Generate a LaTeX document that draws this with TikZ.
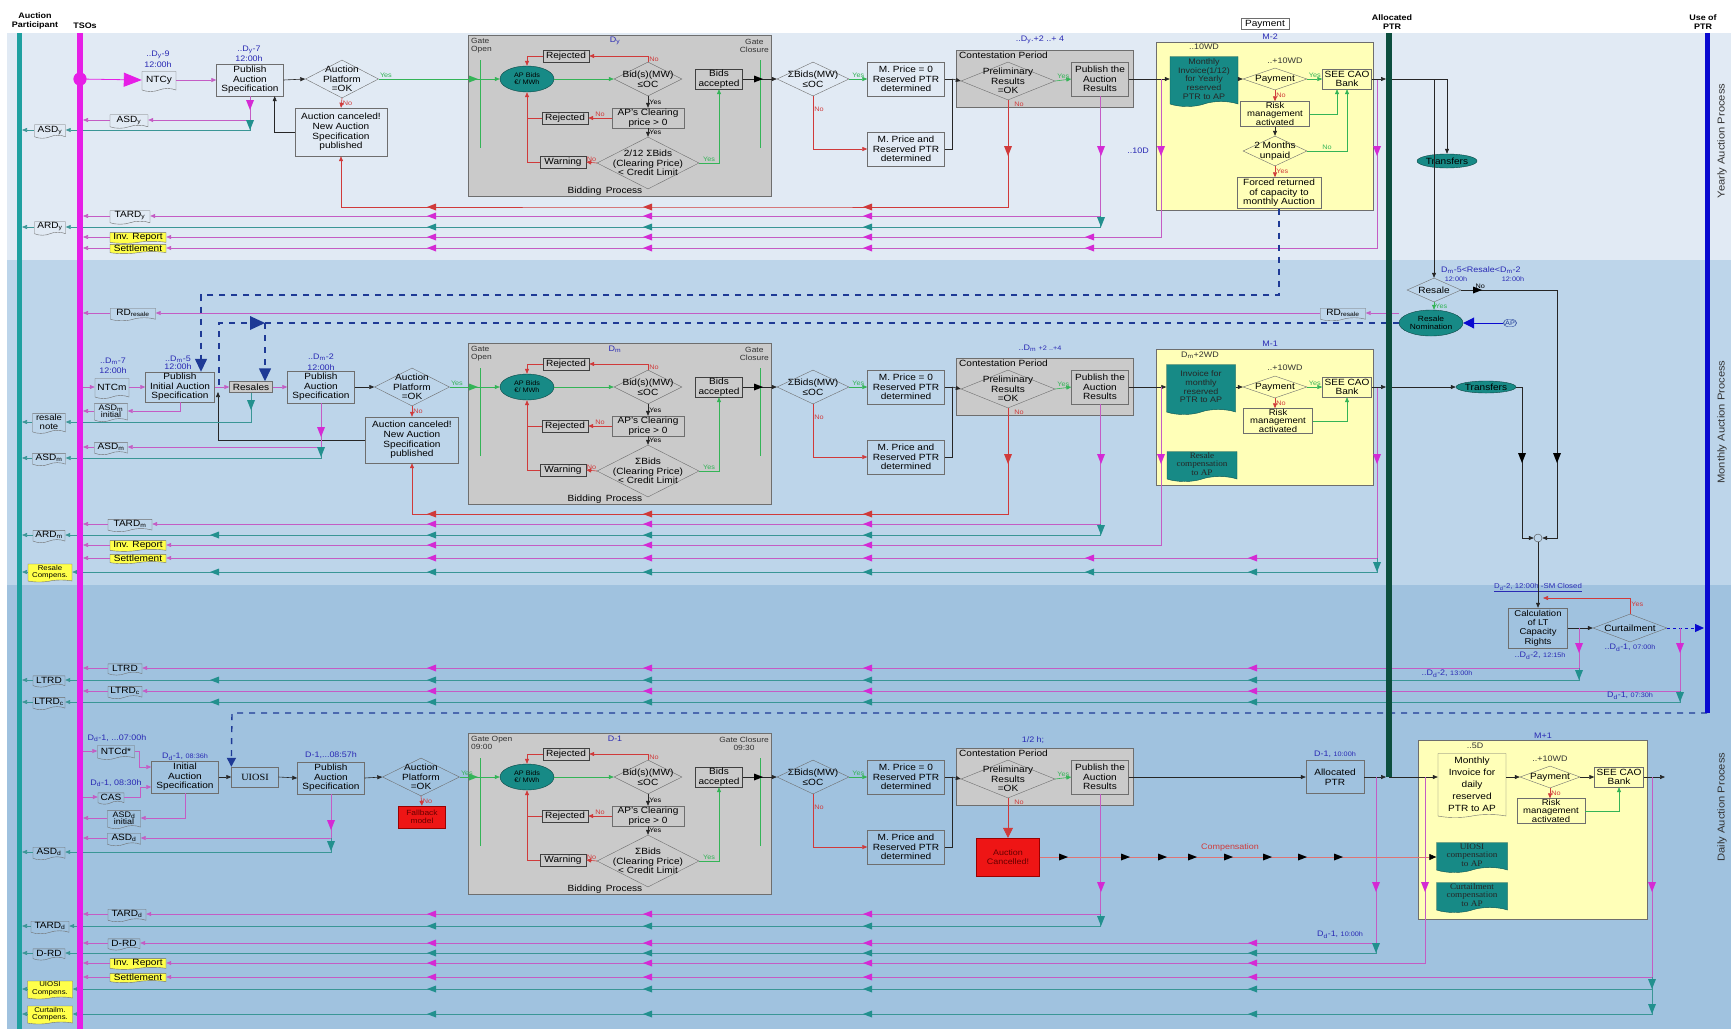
\documentclass[tikz,border=0pt]{standalone}
\usepackage{fontspec}
\setmainfont{Liberation Sans}[FakeStretch=1.12]
\newfontfamily\serifdoc{Liberation Serif}[FakeStretch=1.08]
\usetikzlibrary{arrows.meta,shapes.geometric,shapes.symbols,positioning,calc}

\definecolor{bandY}{HTML}{E1EAF4}
\definecolor{bandM}{HTML}{BDD5EA}
\definecolor{bandD}{HTML}{A0C2DF}
\definecolor{apteal}{HTML}{1FA0A0}
\definecolor{tsomag}{HTML}{E61EE6}
\definecolor{allocgreen}{HTML}{0C4E3E}
\definecolor{useblue}{HTML}{0A0AD0}
\definecolor{navy}{HTML}{1E3A96}
\definecolor{linemag}{HTML}{C45CC4}
\definecolor{tipmag}{HTML}{D42AD4}
\definecolor{lineteal}{HTML}{3A9696}
\definecolor{tipteal}{HTML}{22908E}
\definecolor{linered}{HTML}{D03A3A}
\definecolor{linegreen}{HTML}{34B457}
\definecolor{procgray}{HTML}{CACACA}
\definecolor{docteal}{HTML}{178A86}
\definecolor{payyellow}{HTML}{FFFFB8}
\definecolor{repyellow}{HTML}{FFFF4A}
\definecolor{timeblue}{HTML}{2A2AB4}
\definecolor{cancelred}{HTML}{EE1515}
\definecolor{edgegray}{HTML}{6E6E6E}

\newcommand\bxfont{\fontsize{9}{9.6}\selectfont}
\newcommand\smfont{\fontsize{6.5}{7}\selectfont}
\newcommand\tmfont{\fontsize{8}{8.5}\selectfont}
\newcommand\hdfont{\fontsize{8}{9.5}\selectfont\bfseries}

% arrow heads sitting on the signal lines
\newcommand\ltip[3]{\fill[#1] (#2,#3) -- ++(9,-3.5) -- ++(0,7) -- cycle;}
\newcommand\rtip[3]{\fill[#1] (#2,#3) -- ++(-9,-3.5) -- ++(0,7) -- cycle;}
\newcommand\dtip[3]{\fill[#1] (#2,#3) -- ++(-4,-10) -- ++(8,0) -- cycle;}

\tikzset{
	box/.style={draw=edgegray, inner sep=1pt, align=center, font=\bxfont},
	gbox/.style={box, fill=procgray, draw=black!75},
	dia/.style={diamond, draw=edgegray, inner sep=0pt},
	dtext/.style={align=center, font=\bxfont, inner sep=0pt},
	doc/.style={tape, tape bend top=none, tape bend height=3pt, draw=edgegray, inner sep=1pt, align=center, font=\bxfont},
	tdoc/.style={doc, fill=docteal, draw=docteal!60!black, tape bend height=5pt, text=black!85},
	ydoc/.style={doc, fill=repyellow, tape bend height=2pt, inner sep=0.3pt, minimum width=56pt, minimum height=9pt},
	oval/.style={ellipse, fill=docteal, draw=docteal!50!black, inner sep=0pt, align=center, font=\smfont},
	mline/.style={linemag, line width=0.6pt},
	tline/.style={lineteal, line width=0.6pt},
	rline/.style={linered, line width=0.6pt},
	gline/.style={linegreen, line width=0.6pt},
	kline/.style={black!85, line width=0.6pt},
	navydash/.style={navy, line width=1.4pt, dash pattern=on 6pt off 6pt},
	tip/.style={-{Triangle[length=5pt,width=4pt]}},
	bigtip/.style={-{Triangle[length=13pt,width=12pt]}},
	tolane/.style={tip, shorten >=3pt},
	yes/.style={font=\smfont, text=linegreen, inner sep=1pt},
	no/.style={font=\smfont, text=linered, inner sep=1pt},
	kyes/.style={font=\smfont, text=black, inner sep=1pt},
	tlab/.style={font=\tmfont, text=timeblue, align=center, inner sep=0pt},
	klab/.style={font=\tmfont, text=black!80, inner sep=0pt},
	gate/.style={font=\fontsize{7.5}{8}\selectfont, text=black!80, align=left, inner sep=0pt},
}

\begin{document}
\begin{tikzpicture}[x=1pt, y=-1pt]
	\useasboundingbox (0,0) rectangle (1731,1029);
	\fill[white] (0,0) rectangle (1731,1029);
	\fill[bandY] (7,33) rectangle (1731,260);
	\fill[bandM] (7,260) rectangle (1731,585);
	\fill[bandD] (7,585) rectangle (1731,1029);

	\coordinate (ap) at (19,33);
	\coordinate (tso) at (80,33);
	\coordinate (alloc) at (1389,33);
	\coordinate (use) at (1707,33);
	\coordinate (bottom) at (0,1029);

	% header
	\node[font=\hdfont, align=center, inner sep=0pt] (hap) at (35,21) {Auction\\Participant};
	\node[font=\hdfont, inner sep=0pt] (htso) at (85,26) {TSOs};
	\node[font=\hdfont, align=center, inner sep=0pt] (halloc) at (1392,22) {Allocated\\PTR};
	\node[font=\hdfont, align=center, inner sep=0pt] (huse) at (1703,22) {Use of\\PTR};
	\node[box, minimum width=48pt, minimum height=11pt, inner sep=0pt] (hpay) at (1265,24) {Payment};
	\node[rotate=90, font=\fontsize{10}{10}\selectfont, text=black!80] (lyear) at (1722,141) {Yearly Auction Process};
	\node[rotate=90, font=\fontsize{10}{10}\selectfont, text=black!80] (lmonth) at (1722,422) {Monthly Auction Process};
	\node[rotate=90, font=\fontsize{10}{10}\selectfont, text=black!80] (lday) at (1722,807) {Daily Auction Process};

	% yearly, left part
	\node[circle, fill=tsomag, minimum size=13pt, inner sep=0pt] (doty) at (80,79) {};
	\node[doc, minimum width=34pt, minimum height=20pt] (ntcy) at (159,80) {NTCy};
	\node[tlab] (tny) at (158,59) {..D\textsubscript{y}-9\\[2pt]12:00h};
	\node[box, minimum width=67pt, minimum height=32pt] (puby) at (250,80) {Publish\\Auction\\Specification};
	\node[tlab] (tpy) at (249,54) {..D\textsubscript{y}-7\\[2pt]12:00h};
	\node[dia, minimum width=73pt, minimum height=38pt, label={[dtext]center:{Auction\\Platform\\=OK}}] (platy) at (342,79) {};
	\node[box, minimum width=92pt, minimum height=48pt] (cany) at (341,132) {Auction canceled!\\New Auction\\Specification\\published};
	\draw[tsomag, line width=0.8pt, -{Triangle[length=18pt,width=14pt]}] (doty) -- (ntcy.west);
	\draw[mline, tip] (ntcy.east) -- (puby.west);
	\draw[kline, tip] (puby.east) -- (platy.west);
	\draw[rline, tip] (platy.south) -- node[no, right]{No} (cany.north);
	\draw[kline, tip] (cany.west) -| ([xshift=-9pt]puby.south east);

	\node[doc, minimum width=38pt, minimum height=10pt] (asdyT) at (129,120) {ASD\textsubscript{y}};
	\node[doc, minimum width=31pt, minimum height=10pt] (asdyP) at (50,130) {ASD\textsubscript{y}};
	\draw[mline, tip] (puby.south) |- (asdyT.east);
	\dtip{tipmag}{250}{110}
	\draw[mline, tolane] (asdyT.west) -- (asdyT.west -| tso);
	\draw[tline, tip] (puby.south |- asdyT.east) |- (asdyP.east);
	\dtip{tipteal}{250}{130}
	\draw[tline, tolane] (asdyP.west) -- (asdyP.west -| ap);

	\node[doc, minimum width=40pt, minimum height=10pt] (tardyT) at (130,216) {TARD\textsubscript{y}};
	\node[ydoc] (invyT) at (138,237) {Inv. Report};
	\node[ydoc] (setyT) at (138,248) {Settlement};
	\node[doc, minimum width=31pt, minimum height=10pt] (ardyP) at (50,227) {ARD\textsubscript{y}};
	\draw[mline, tolane] (tardyT.west) -- (tardyT.west -| tso);
	\draw[mline, tolane] (invyT.west) -- (invyT.west -| tso);
	\draw[mline, tolane] (setyT.west) -- (setyT.west -| tso);
	\draw[tline, tolane] (ardyP.west) -- (ardyP.west -| ap);

	% monthly, left part
	\node[doc, minimum width=34pt, minimum height=20pt] (ntcm) at (112,387) {NTCm};
	\node[tlab] (tnm) at (113,366) {..D\textsubscript{m}-7\\[2pt]12:00h};
	\node[box, minimum width=69pt, minimum height=30pt] (pubinit) at (180,387) {Publish\\Initial Auction\\Specification};
	\node[tlab] (tim) at (178,363) {..D\textsubscript{m}-5\\[0pt]12:00h};
	\node[gbox, draw=edgegray, minimum width=43pt, minimum height=11pt, inner sep=0.5pt] (resales) at (251,387) {Resales};
	\node[box, minimum width=67pt, minimum height=32pt] (pubm) at (321,387) {Publish\\Auction\\Specification};
	\node[tlab] (tpm) at (321,362) {..D\textsubscript{m}-2\\[2pt]12:00h};
	\node[dia, minimum width=75pt, minimum height=38pt, label={[dtext]center:{Auction\\Platform\\=OK}}] (platm) at (412,387) {};
	\node[box, minimum width=93pt, minimum height=46pt] (canm) at (412,440) {Auction canceled!\\New Auction\\Specification\\published};
	\draw[mline, tip] ([xshift=3pt]ntcm.west -| tso) -- (ntcm.west);
	\draw[mline, tip] (ntcm.east) -- (pubinit.west);
	\draw[mline, tip] (pubinit.east) -- (resales.west);
	\draw[mline, tip] (resales.east) -- (pubm.west);
	\draw[kline, tip] (pubm.east) -- (platm.west);
	\draw[rline, tip] (platm.south) -- node[no, right]{No} (canm.north);
	\coordinate (fbm) at (218,392);
	\draw[kline, tip] (canm.west) -| (fbm);

	\node[doc, minimum width=33pt, minimum height=14pt, font=\fontsize{8}{7.5}\selectfont] (asdmiT) at (111,411) {ASD\textsubscript{m}\\initial};
	\draw[mline, tip] (pubinit.south) |- (asdmiT.east);
	\draw[mline, tolane] (asdmiT.west) -- (asdmiT.west -| tso);
	\node[doc, minimum width=33pt, minimum height=18pt, font=\fontsize{8.5}{8.5}\selectfont] (resnoteP) at (49,422) {resale\\note};
	\draw[tline, tip] (resales.south) |- (resnoteP.east);
	\dtip{tipteal}{251}{410}
	\draw[tline, tolane] (resnoteP.west) -- (resnoteP.west -| ap);

	\node[doc, minimum width=33pt, minimum height=10pt] (asdmT) at (111,447) {ASD\textsubscript{m}};
	\node[doc, minimum width=33pt, minimum height=10pt] (asdmP) at (49,458) {ASD\textsubscript{m}};
	\draw[mline, tip] (pubm.south) |- (asdmT.east);
	\dtip{tipmag}{321}{437}
	\draw[mline, tolane] (asdmT.west) -- (asdmT.west -| tso);
	\draw[tline, tip] (pubm.south |- asdmT.east) |- (asdmP.east);
	\dtip{tipteal}{321}{457}
	\draw[tline, tolane] (asdmP.west) -- (asdmP.west -| ap);

	\node[doc, minimum width=44pt, minimum height=10pt] (tardmT) at (130,524) {TARD\textsubscript{m}};
	\node[ydoc] (invmT) at (138,545) {Inv. Report};
	\node[ydoc] (setmT) at (138,558) {Settlement};
	\node[doc, minimum width=32pt, minimum height=10pt] (ardmP) at (49,535) {ARD\textsubscript{m}};
	\node[ydoc, minimum width=44pt, minimum height=18pt, font=\fontsize{7}{7.5}\selectfont] (rescP) at (50,572) {Resale\\Compens.};
	\draw[mline, tolane] (tardmT.west) -- (tardmT.west -| tso);
	\draw[mline, tolane] (invmT.west) -- (invmT.west -| tso);
	\draw[mline, tolane] (setmT.west) -- (setmT.west -| tso);
	\draw[tline, tolane] (ardmP.west) -- (ardmP.west -| ap);
	\draw[tline, tolane] (rescP.west) -- (rescP.west -| ap);

	% daily, left part
	\node[doc, minimum width=37pt, minimum height=14pt] (ntcd) at (116,751) {NTCd*};
	\node[tlab] (tnd) at (117,738) {D\textsubscript{d}-1, ...07:00h};
	\node[doc, minimum width=26pt, minimum height=11pt] (cas) at (111,797) {CAS};
	\node[tlab] (tcas) at (116,783) {D\textsubscript{d}-1, 08:30h};
	\node[box, minimum width=67pt, minimum height=32pt] (initd) at (185,777) {Initial\\Auction\\Specification};
	\node[tlab] (tid) at (185,757) {D\textsubscript{d}-1, {\smfont 08:36h}};
	\node[box, minimum width=47pt, minimum height=20pt, font=\serifdoc\fontsize{9.5}{10}\selectfont] (uiosi) at (255,777) {UIOSI};
	\node[box, minimum width=67pt, minimum height=32pt] (pubd) at (331,778) {Publish\\Auction\\Specification};
	\node[tlab] (tpd) at (331,755) {D-1,...08:57h};
	\node[dia, minimum width=77pt, minimum height=38pt, label={[dtext]center:{Auction\\Platform\\=OK}}] (platd) at (421,777) {};
	\node[box, fill=cancelred, draw=red!60!black, minimum width=47pt, minimum height=22pt, text=red!40!black, font=\fontsize{7.5}{8}\selectfont] (fallback) at (422,817) {Fallback\\model};
	\draw[mline, tip] ([xshift=3pt]ntcd.west -| tso) -- (ntcd.west);
	\draw[mline, tip] ([xshift=3pt]cas.west -| tso) -- (cas.west);
	\draw[mline, tip] (ntcd.east) -- ++(5,0) |- ([yshift=10pt]initd.west);
	\draw[mline, tip] (cas.east) -- ++(16,0) |- ([yshift=-10pt]initd.west);
	\draw[kline, tip] (initd.east) -- (uiosi.west);
	\draw[kline, tip] (uiosi.east) -- (pubd.west);
	\draw[kline, tip] (pubd.east) -- (platd.west);
	\draw[rline, tip] (platd.south) -- node[no, right]{No} (fallback.north);

	\node[doc, minimum width=33pt, minimum height=14pt, font=\fontsize{8}{7.5}\selectfont] (asddiT) at (124,818) {ASD\textsubscript{d}\\initial};
	\draw[mline, tip] (initd.south) |- (asddiT.east);
	\draw[mline, tolane] (asddiT.west) -- (asddiT.west -| tso);
	\node[doc, minimum width=33pt, minimum height=11pt] (asddT) at (124,838) {ASD\textsubscript{d}};
	\node[doc, minimum width=32pt, minimum height=11pt] (asddP) at (49,852) {ASD\textsubscript{d}};
	\draw[mline, tip] (pubd.south) |- (asddT.east);
	\dtip{tipmag}{331}{830}
	\draw[mline, tolane] (asddT.west) -- (asddT.west -| tso);
	\draw[tline, tip] (pubd.south |- asddT.east) |- (asddP.east);
	\dtip{tipteal}{331}{851}
	\draw[tline, tolane] (asddP.west) -- (asddP.west -| ap);

	\node[doc, minimum width=38pt, minimum height=10pt] (tarddT) at (127,914) {TARD\textsubscript{d}};
	\node[doc, minimum width=38pt, minimum height=10pt] (tarddP) at (50,926) {TARD\textsubscript{d}};
	\node[doc, minimum width=32pt, minimum height=10pt] (drdT) at (124,943) {D-RD};
	\node[doc, minimum width=32pt, minimum height=10pt] (drdP) at (49,953) {D-RD};
	\node[ydoc] (invdT) at (138,963) {Inv. Report};
	\node[ydoc] (setdT) at (138,977) {Settlement};
	\node[ydoc, minimum width=45pt, minimum height=18pt, font=\fontsize{7}{7.5}\selectfont] (uiosiP) at (50,989) {UIOSI\\Compens.};
	\node[ydoc, minimum width=45pt, minimum height=18pt, font=\fontsize{7}{7.5}\selectfont] (curtP) at (50,1014) {Curtailm.\\Compens.};
	\foreach \n in {tarddT,drdT,invdT,setdT} {\draw[mline, tolane] (\n.west) -- (\n.west -| tso);}
	\foreach \n in {tarddP,drdP,uiosiP,curtP} {\draw[tline, tolane] (\n.west) -- (\n.west -| ap);}

	% bidding process and contestation, same in the three rows
	\foreach \r/\yo/\ttl/\gopen/\gclose/\crit in {
			y/0/{D\textsubscript{y}}/{Gate\\Open}/{Gate\\Closure}/{2/12 ΣBids\\(Clearing Price)\\< Credit Limit},
			m/-308/{D\textsubscript{m}}/{Gate\\Open}/{Gate\\Closure}/{ΣBids\\(Clearing Price)\\< Credit Limit},
			d/-698/{D-1}/{Gate Open\\09:00}/{Gate Closure\\09:30}/{ΣBids\\(Clearing Price)\\< Credit Limit}}{
		\begin{scope}[yshift=\yo*1pt]
			\node[box, fill=procgray, minimum width=303pt, minimum height=161pt] (bp\r) at (619.5,115.5) {};
			\node[tlab] (bt\r) at (615,41) {\ttl};
			\node[gate, anchor=north west] (go\r) at (471,38) {\gopen};
			\node[gate, anchor=north east, align=center] (gc\r) at (769,39) {\gclose};
			\draw[gline] (480,60) -- (480,148);
			\draw[gline] (760,60) -- (760,148);
			\node[oval, minimum width=54pt, minimum height=26pt] (bids\r) at (527,79) {AP Bids\\€/ MWh};
			\node[dia, minimum width=68pt, minimum height=34pt, label={[dtext]center:{Bid(s)(MW)\\≤OC}}] (oc\r) at (648,79) {};
			\node[gbox, minimum width=46pt, minimum height=12pt] (rja\r) at (566,56) {Rejected};
			\node[gbox, draw=edgegray, minimum width=72pt, minimum height=20pt] (cp\r) at (648,118) {AP's Clearing\\price > 0};
			\node[gbox, minimum width=46pt, minimum height=12pt] (rjb\r) at (565,118) {Rejected};
			\node[dia, minimum width=102pt, minimum height=52pt, label={[dtext]center:{\crit}}] (cl\r) at (648,163) {};
			\node[gbox, minimum width=46pt, minimum height=12pt] (warn\r) at (563,162) {Warning};
			\node[gbox, minimum width=47pt, minimum height=20pt] (acc\r) at (719,79) {Bids\\accepted};
			\node[font=\bxfont, inner sep=0pt] (bl\r) at (605,191) {Bidding\enspace Process};
			\node[dia, minimum width=72pt, minimum height=34pt, label={[dtext]center:{ΣBids(MW)\\≤OC}}] (sum\r) at (813,79) {};
			\node[box, minimum width=77pt, minimum height=34pt] (mp0\r) at (906,79) {M. Price = 0\\Reserved PTR\\determined};
			\node[box, minimum width=77pt, minimum height=34pt] (mpr\r) at (906,149) {M. Price and\\Reserved PTR\\determined};
			\node[box, fill=procgray, minimum width=177pt, minimum height=57pt] (cont\r) at (1044.5,78.5) {};
			\node[font=\bxfont, anchor=north west, inner sep=0pt] (ct\r) at (959,52) {Contestation Period};
			\node[dia, minimum width=94pt, minimum height=38pt, label={[dtext]center:{Preliminary\\Results\\=OK}}] (pre\r) at (1008,81) {};
			\node[gbox, draw=edgegray, minimum width=57pt, minimum height=34pt] (res\r) at (1100,79) {Publish the\\Auction\\Results};
			\draw[gline, tip] (plat\r.east) -- node[yes, anchor=south west, pos=0]{Yes} (bids\r.west);
			\rtip{linegreen}{478}{79}
			\draw[gline, tip] (bids\r.east) -- (oc\r.west);
			\draw[rline, tip] (oc\r.north) |- node[no, pos=0.25, right]{No} (rja\r.east);
			\draw[rline, tip] (rja\r.west) -| (bids\r.north);
			\draw[kline, tip] (oc\r.south) -- node[kyes, right]{Yes} (cp\r.north);
			\draw[rline, tip] (cp\r.west) -- node[no, above]{No} (rjb\r.east);
			\draw[rline] (rjb\r.west) -- (rjb\r.west -| bids\r.south);
			\draw[kline, tip] (cp\r.south) -- node[kyes, right]{Yes} (cl\r.north);
			\draw[rline, tip] (cl\r.west) -- node[no, above]{No} (warn\r.east);
			\draw[rline, tip] (warn\r.west) -| (bids\r.south);
			\draw[gline, tip] (cl\r.east) -| node[yes, above, pos=0.25]{Yes} (acc\r.south);
			\draw[kline, tip] (acc\r.east) -- (sum\r.west);
			\rtip{black}{763}{79}
			\draw[gline, tip] (sum\r.east) -- node[yes, above]{Yes} (mp0\r.west);
			\draw[rline, tip] (sum\r.south) |- node[no, right, pos=0.12]{No} (mpr\r.west);
			\coordinate (j\r) at (952,79);
			\draw[kline] (mp0\r.east) -- (j\r);
			\draw[kline] (mpr\r.east) -| (j\r);
			\draw[kline, tip] (j\r) -- (pre\r.west);
			\draw[gline, tip] (pre\r.east) -- node[yes, above]{Yes} (res\r.west);
			\node[no] (pn\r) at (1019,104) {No};
		\end{scope}
	}

	% yearly, right part
	\node[tlab] (tcy) at (1040,40) {..D\textsubscript{y}.+2 ..+ 4};
	\coordinate (redy) at (700,207);
	\draw[rline, tip] (prey.south) |- (redy) -| (cany.south);
	\dtip{linered}{1008}{156}
	\draw[mline, tip] (resy.south) |- (tardyT.east);
	\dtip{tipmag}{1101}{156}
	\draw[tline, tip] (resy.south |- tardyT.east) |- (ardyP.east);
	\dtip{tipteal}{1101}{227}
	\foreach \x in {427,643,863} {\ltip{linered}{\x}{207}\ltip{tipmag}{\x}{216}\ltip{tipteal}{\x}{227}}

	\node[box, fill=payyellow, minimum width=217pt, minimum height=168pt] (yby) at (1264.5,126) {};
	\node[tlab] (m2) at (1270,37) {M-2};
	\node[klab] (w10y) at (1204,47) {..10WD};
	\node[tdoc, minimum width=68pt, minimum height=50pt, font=\fontsize{8}{8.6}\selectfont] (invy) at (1204,79) {Monthly\\Invoice(1/12)\\for Yearly\\reserved\\PTR to AP};
	\node[klab] (p10y) at (1285,61) {..+10WD};
	\node[dia, minimum width=64pt, minimum height=22pt, label={[dtext]center:Payment}] (payy) at (1275,79) {};
	\node[box, minimum width=49pt, minimum height=20pt] (banky) at (1347,79) {SEE CAO\\Bank};
	\node[box, minimum width=69pt, minimum height=24pt, font=\fontsize{8.5}{7.8}\selectfont] (risky) at (1275,114) {Risk\\management\\activated};
	\node[dia, minimum width=64pt, minimum height=30pt, label={[dtext]center:{2 Months\\unpaid}}] (unpaid) at (1275,151) {};
	\node[box, minimum width=84pt, minimum height=31pt] (forced) at (1279,193) {Forced returned\\of capacity to\\monthly Auction};
	\draw[kline, tip] (resy.east) -- (invy.west);
	\coordinate (b10y) at (1161,79);
	\draw[mline, tip] (b10y) |- (invyT.east);
	\dtip{tipmag}{1161}{156}
	\node[tlab] (d10y) at (1138,151) {..10D};
	\draw[kline, tip] (invy.east) -- (payy.west);
	\draw[gline, tip] (payy.east) -- node[yes, above]{Yes} (banky.west);
	\draw[rline, tip] (payy.south) -- node[no, right]{No} (risky.north);
	\draw[gline, tip] (risky.east) -| ([xshift=-10pt]banky.south);
	\draw[kline, tip] (risky.south) -- (unpaid.north);
	\draw[gline, tip] (unpaid.east) -| node[yes, above, pos=0.25]{No} (banky.south);
	\draw[rline, tip] (unpaid.south) -- node[no, right]{Yes} (unpaid.south |- forced.north);
	\coordinate (bsy) at (1377,79);
	\draw[mline, tip] (bsy) |- (setyT.east);
	\dtip{tipmag}{1377}{156}
	\foreach \x in {427,643,863,1085} {\ltip{tipmag}{\x}{237}\ltip{tipmag}{\x}{248}}

	\node[oval, minimum width=60pt, minimum height=14pt, font=\bxfont] (transy) at (1447,161) {Transfers};
	\node[dia, minimum width=54pt, minimum height=24pt, label={[dtext]center:Resale}] (resale) at (1434,290) {};
	\draw[kline, tolane] (banky.east) -- (banky.east -| alloc);
	\draw[kline, tip] (banky.east -| alloc) -| (transy.north);
	\draw[kline, tip] (banky.east -| resale.north) -- (resale.north);

	% monthly, right part
	\coordinate (dsh1) at (201,295);
	\draw[navydash, bigtip] (forced.south) |- (dsh1) -- ([xshift=21pt]pubinit.north);
	\node[oval, minimum width=64pt, minimum height=26pt, font=\fontsize{7.5}{8}\selectfont] (resnom) at (1431,323) {Resale\\Nomination};
	\coordinate (dsh2) at (219,323);
	\coordinate (dsh3) at (219,386);
	\draw[navydash] (resnom.west) -- (dsh2) -- (dsh3);
	\fill[navy] (250,316) -- (265,323) -- (250,330) -- cycle;
	\coordinate (dsh4) at (265,323);
	\draw[navydash, bigtip] (dsh4) -- ([xshift=14pt]resales.north);
	\node[tlab, anchor=west] (trs) at (1441,270) {D\textsubscript{m}-5<Resale<D\textsubscript{m}-2};
	\node[tlab, font=\smfont] (trs1) at (1456,279) {12:00h};
	\node[tlab, font=\smfont] (trs2) at (1513,279) {12:00h};
	\node[draw=navy, rounded corners=4pt, text=navy, font=\smfont, inner sep=1.5pt] (apn) at (1510,323) {AP};
	\draw[useblue, line width=1pt, -{Triangle[length=11pt,width=11pt]}] (apn.west) -- (resnom.east);
	\draw[gline, tip] (resale.south) -- node[yes, right]{Yes} (resale.south |- resnom.north);
	\node[doc, minimum width=45pt, minimum height=10pt] (rdresR) at (1343,313) {RD\textsubscript{resale}};
	\node[doc, minimum width=45pt, minimum height=10pt] (rdresT) at (133,313) {RD\textsubscript{resale}};
	\draw[mline, tip] (rdresR.east -| resnom.west) -- (rdresR.east);
	\draw[mline, tip] (rdresR.west) -- (rdresT.east);
	\draw[mline, tolane] (rdresT.west) -- (rdresT.west -| tso);

	\node[tlab] (tcm) at (1040,348) {..D\textsubscript{m} {\smfont +2 ..+4}};
	\coordinate (redm) at (700,514);
	\draw[rline, tip] (prem.south) |- (redm) -| (canm.south);
	\dtip{linered}{1008}{464}
	\draw[mline, tip] (resm.south) |- (tardmT.east);
	\dtip{tipmag}{1101}{464}
	\draw[tline, tip] (resm.south |- tardmT.east) |- (ardmP.east);
	\dtip{tipteal}{1101}{535}
	\foreach \x in {427,643,863} {\ltip{linered}{\x}{514}\ltip{tipmag}{\x}{524}\ltip{tipteal}{\x}{535}}
	\ltip{tipteal}{210}{535}

	\node[box, fill=payyellow, minimum width=217pt, minimum height=136pt] (ybm) at (1264.5,417) {};
	\node[tlab] (m1) at (1270,344) {M-1};
	\node[klab] (w2m) at (1200,355) {D\textsubscript{m}+2WD};
	\node[tdoc, minimum width=69pt, minimum height=50pt, font=\fontsize{8}{8.6}\selectfont] (invm) at (1201,387) {Invoice for\\monthly\\reserved\\PTR to AP};
	\node[klab] (p10m) at (1285,368) {..+10WD};
	\node[dia, minimum width=64pt, minimum height=22pt, label={[dtext]center:Payment}] (paym) at (1275,387) {};
	\node[box, minimum width=49pt, minimum height=20pt] (bankm) at (1347,387) {SEE CAO\\Bank};
	\node[box, minimum width=69pt, minimum height=23pt, font=\fontsize{8.5}{7.8}\selectfont] (riskm) at (1278,421) {Risk\\management\\activated};
	\node[tdoc, minimum width=70pt, minimum height=30pt, font=\serifdoc\fontsize{8.5}{8.5}\selectfont] (rcomp) at (1202,464) {Resale\\compensation\\to AP};
	\draw[kline, tip] (resm.east) -- (invm.west);
	\coordinate (b10m) at (1161,387);
	\draw[mline, tip] (b10m) |- (invmT.east);
	\dtip{tipmag}{1161}{464}
	\foreach \x in {427,643,863} {\ltip{tipmag}{\x}{545}}
	\draw[kline, tip] (invm.east) -- (paym.west);
	\draw[gline, tip] (paym.east) -- node[yes, above]{Yes} (bankm.west);
	\draw[rline, tip] (paym.south) -- node[no, right]{No} (paym.south |- riskm.north);
	\draw[gline, tip] (riskm.east) -| (bankm.south);
	\coordinate (bsm) at (1377,387);
	\draw[mline, tip] (bsm) |- (setmT.east);
	\dtip{tipmag}{1377}{464}
	\draw[tline, tip] (bsm |- setmT.east) |- (rescP.east);
	\dtip{tipteal}{1377}{572}
	\foreach \x in {427,643,863,1085,1248} {\ltip{tipmag}{\x}{558}\ltip{tipteal}{\x}{572}}
	\ltip{tipteal}{210}{572}

	\node[oval, minimum width=60pt, minimum height=12pt, font=\bxfont] (transm) at (1486,387) {Transfers};
	\node[circle, draw=black!70, fill=bandM, minimum size=8pt, inner sep=0pt] (merge) at (1538,538) {};
	\draw[kline, tolane] (bankm.east) -- (bankm.east -| alloc);
	\draw[kline, tip] (bankm.east -| alloc) -- (transm.west);
	\coordinate (tdm) at (1522,387);
	\draw[kline, tip] (transm.east) -- (tdm) |- (merge.west);
	\dtip{black}{1522}{463}
	\coordinate (rno) at (1557,290);
	\draw[kline, tip] (resale.east) -- node[kyes, above, pos=0.2]{No} (rno) |- (merge.east);
	\rtip{black}{1482}{290}
	\dtip{black}{1557}{463}

	% long term rights
	\node[box, minimum width=59pt, minimum height=40pt, font=\fontsize{8.5}{9.3}\selectfont] (calc) at (1538,628) {Calculation\\of LT\\Capacity\\Rights};
	\node[tlab, font=\fontsize{7}{7}\selectfont] (tsm) at (1538,588) {\underline{D\textsubscript{d}-2, 12:00h -SM Closed}};
	\node[dia, minimum width=74pt, minimum height=28pt, label={[dtext]center:Curtailment}] (curt) at (1630,628) {};
	\draw[kline, tip] (merge.south) -- (calc.north);
	\draw[kline, tip] (calc.east) -- (curt.west);
	\coordinate (cy) at (1543,598);
	\draw[rline, tip] (curt.north) |- node[no, right, pos=0.3]{Yes} (cy);
	\draw[useblue, line width=1pt, dashed, -{Triangle[length=9pt,width=8pt]}, shorten >=3pt] (curt.east) -- (curt.east -| use);
	\node[tlab] (t1215) at (1540,656) {..D\textsubscript{d}-2, {\smfont 12:15h}};
	\node[tlab] (t0700) at (1630,648) {..D\textsubscript{d}-1, {\smfont 07:00h}};
	\node[doc, minimum width=34pt, minimum height=10pt] (ltrdT) at (125,668) {LTRD};
	\node[doc, minimum width=32pt, minimum height=10pt] (ltrdP) at (49,680) {LTRD};
	\node[doc, minimum width=34pt, minimum height=10pt] (ltrdcT) at (125,691) {LTRD\textsubscript{c}};
	\node[doc, minimum width=32pt, minimum height=10pt] (ltrdcP) at (49,702) {LTRD\textsubscript{c}};
	\foreach \n in {ltrdT,ltrdcT} {\draw[mline, tolane] (\n.west) -- (\n.west -| tso);}
	\foreach \n in {ltrdP,ltrdcP} {\draw[tline, tolane] (\n.west) -- (\n.west -| ap);}
	\coordinate (lt1) at (1579,628);
	\coordinate (lt2) at (1680,628);
	\draw[mline, tip] (lt1) |- (ltrdT.east);
	\dtip{tipmag}{1579}{653}
	\draw[tline, tip] (lt1 |- ltrdT.east) |- (ltrdP.east);
	\dtip{tipteal}{1579}{680}
	\draw[mline, tip] (lt2) |- (ltrdcT.east);
	\dtip{tipmag}{1680}{653}
	\draw[tline, tip] (lt2 |- ltrdcT.east) |- (ltrdcP.east);
	\dtip{tipteal}{1680}{702}
	\foreach \x in {427,643,863,1248} {\ltip{tipmag}{\x}{668}\ltip{tipteal}{\x}{680}\ltip{tipmag}{\x}{691}\ltip{tipteal}{\x}{702}}
	\ltip{tipteal}{210}{680}
	\ltip{tipteal}{210}{702}
	\node[tlab] (t1300) at (1447,674) {..D\textsubscript{d}-2, {\smfont 13:00h}};
	\node[tlab] (t0730) at (1630,696) {D\textsubscript{d}-1, {\smfont 07:30h}};

	% daily, right part
	\coordinate (dsh5) at (232,713);
	\draw[navydash, -{Triangle[length=9pt,width=9pt]}] (use |- dsh5) -- (dsh5) -- (uiosi.north west);
	\node[tlab] (tcd) at (1033,740) {1/2 h;};
	\node[box, fill=cancelred, draw=red!60!black, minimum width=63pt, minimum height=38pt, text=red!40!black, font=\fontsize{8}{9}\selectfont] (cancd) at (1008,857) {Auction\\Cancelled!};
	\draw[rline, -{Triangle[length=10pt,width=10pt]}] (pred.south) -- (cancd.north);
	\draw[mline, tip] (resd.south) |- (tarddT.east);
	\dtip{tipmag}{1101}{892}
	\draw[tline, tip] (resd.south |- tarddT.east) |- (tarddP.east);
	\dtip{tipteal}{1101}{926}
	\foreach \x in {427,643,863} {\ltip{tipmag}{\x}{914}\ltip{tipteal}{\x}{926}}

	\node[box, minimum width=58pt, minimum height=33pt] (allocd) at (1335,777) {Allocated\\PTR};
	\node[tlab] (tad) at (1335,754) {D-1, {\smfont 10:00h}};
	\draw[kline, tip] (resd.east) -- (allocd.west);
	\draw[kline, tolane] (allocd.east) -- (allocd.east -| alloc);

	\node[box, fill=payyellow, minimum width=229pt, minimum height=179pt] (ybd) at (1532.5,829.5) {};
	\node[tlab] (mp1) at (1543,736) {M+1};
	\node[klab] (d5) at (1475,746) {..5D};
	\node[doc, fill=payyellow, minimum width=68pt, minimum height=64pt, font=\fontsize{9}{12}\selectfont] (invd) at (1472,784) {Monthly\\Invoice for\\daily\\reserved\\PTR to AP};
	\node[klab] (p10d) at (1550,759) {..+10WD};
	\node[dia, minimum width=60pt, minimum height=22pt, label={[dtext]center:Payment}] (payd) at (1550,777) {};
	\node[box, minimum width=49pt, minimum height=20pt] (bankd) at (1619,777) {SEE CAO\\Bank};
	\node[box, minimum width=68pt, minimum height=23pt, font=\fontsize{8.5}{7.8}\selectfont] (riskd) at (1551,811) {Risk\\management\\activated};
	\node[tdoc, minimum width=71pt, minimum height=30pt, font=\serifdoc\fontsize{8.5}{8.5}\selectfont] (ucomp) at (1472,855) {UIOSI\\compensation\\to AP};
	\node[tdoc, minimum width=71pt, minimum height=30pt, font=\serifdoc\fontsize{8.5}{8.5}\selectfont] (ccomp) at (1472,895) {Curtailment\\compensation\\to AP};
	\draw[kline, tip] (allocd.east -| alloc) -- (allocd.east -| invd.west);
	\draw[kline, tip] (allocd.east -| invd.east) -- (payd.west);
	\draw[kline, tip] (payd.east) -- (bankd.west);
	\draw[rline, tip] (payd.south) -- node[no, right]{No} (payd.south |- riskd.north);
	\draw[gline, tip] (riskd.east) -| (bankd.south);
	\coordinate (dout) at (1665,777);
	\draw[kline, tip] (bankd.east) -- (dout);

	\draw[linered!70, line width=0.5pt, -{Triangle[length=7pt,width=6pt,color=black]}] (cancd.east) -- (cancd.east -| ucomp.west);
	\foreach \x in {1068,1130,1167,1197,1233,1272,1307,1343} {\rtip{black}{\x}{857}}
	\node[font=\fontsize{8}{8}\selectfont, text=linered] (lcomp) at (1230,847) {Compensation};

	\coordinate (vd1) at (1376,777);
	\coordinate (vd2) at (1425,777);
	\coordinate (vd3) at (1652,777);
	\draw[mline, tip] (vd1) |- (drdT.east);
	\dtip{tipmag}{1376}{892}
	\draw[tline, tip] (vd1 |- drdT.east) |- (drdP.east);
	\dtip{tipteal}{1376}{953}
	\node[tlab] (tdd) at (1340,935) {D\textsubscript{d}-1, {\smfont 10:00h}};
	\draw[mline, tip] (vd2) |- (invdT.east);
	\dtip{tipmag}{1425}{892}
	\draw[mline, tip] (vd3) |- (setdT.east);
	\dtip{tipmag}{1652}{892}
	\draw[tline, tip] (vd3 |- setdT.east) |- (uiosiP.east);
	\dtip{tipteal}{1652}{989}
	\draw[tline, tip] (vd3 |- uiosiP.east) |- (curtP.east);
	\dtip{tipteal}{1652}{1014}
	\foreach \x in {427,643,863,1248} {\ltip{tipmag}{\x}{943}\ltip{tipteal}{\x}{953}\ltip{tipmag}{\x}{963}\ltip{tipmag}{\x}{977}\ltip{tipteal}{\x}{989}\ltip{tipteal}{\x}{1014}}

	% lanes
	\draw[apteal, line width=5pt] (ap) -- (ap |- bottom);
	\draw[tsomag, line width=6pt] (tso) -- (tso |- bottom);
	\draw[allocgreen, line width=6pt] (alloc) -- (alloc |- allocd.east);
	\draw[useblue, line width=5pt] (use) -- (use |- dsh5);
	\fill[tsomag] (doty) circle (6.5pt);
\end{tikzpicture}
\end{document}
